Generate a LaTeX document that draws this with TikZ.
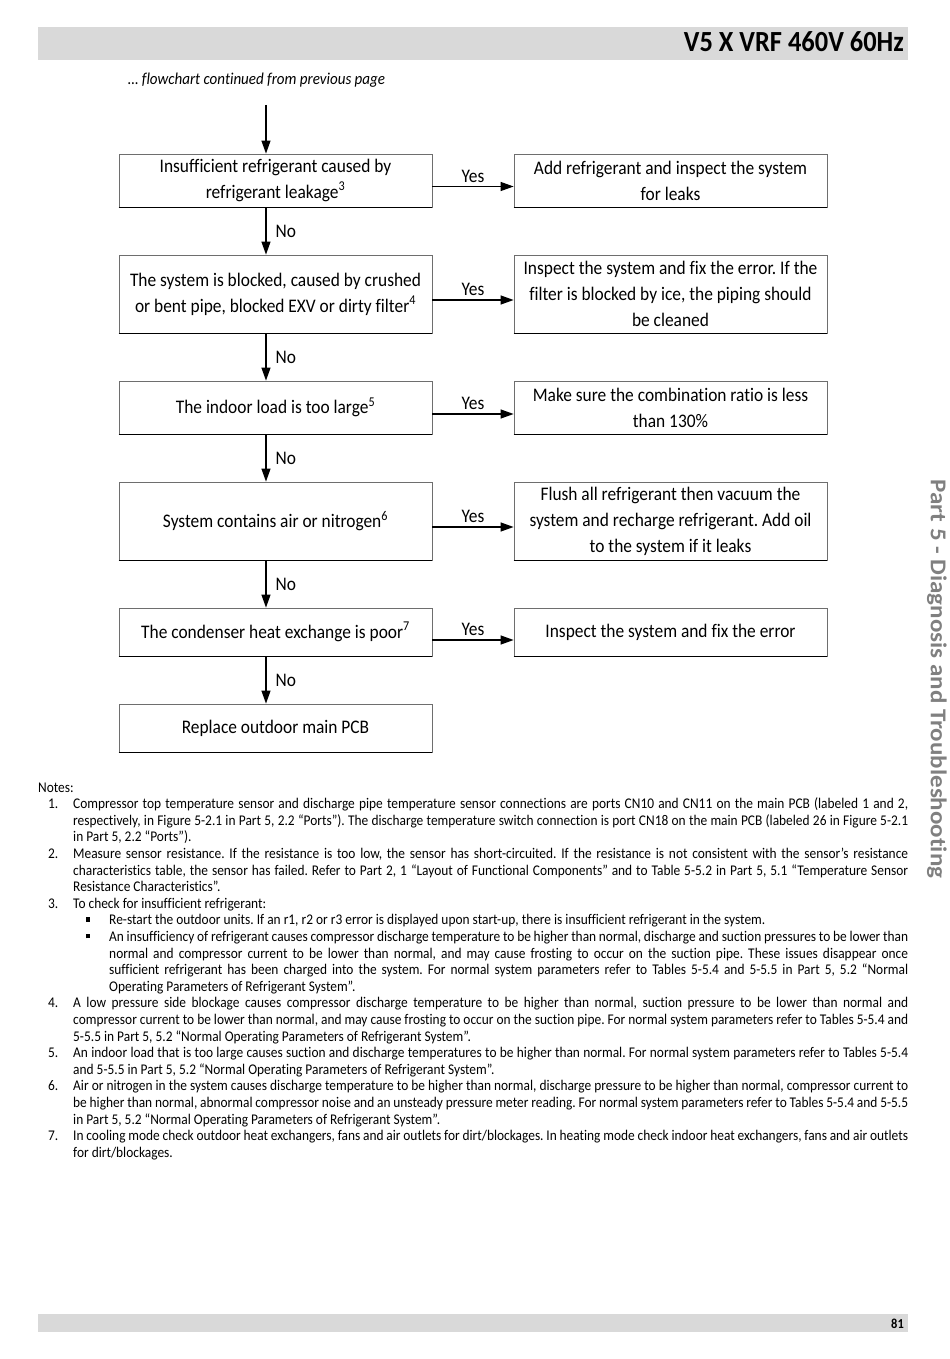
\documentclass[tikz,border=0pt]{standalone}
\usepackage{fontspec}
\setmainfont{Carlito}[Ligatures={TeX,NoCommon}]
\usetikzlibrary{arrows.meta}
\frenchspacing
\definecolor{hdrgray}{HTML}{D9D9D9}
\definecolor{sidegray}{HTML}{808080}
\definecolor{boxline}{HTML}{6E6E6E}
\newcommand\boxfont{\fontsize{19.2}{26}\selectfont}
\newcommand\notefont{\fontsize{14.8}{16.6}\selectfont}
\newenvironment{notelist}{\begin{list}{}{\setlength\leftmargin{38.7pt}\setlength\labelwidth{38.7pt}\setlength\labelsep{0pt}\setlength\itemsep{0pt}\setlength\parsep{0pt}\setlength\topsep{0pt}\setlength\partopsep{0pt}\setlength\itemindent{0pt}\setlength\listparindent{0pt}\setlength\rightmargin{0pt}\renewcommand\makelabel[1]{\makebox[\labelwidth][l]{\hspace{11pt}##1}}}}{\end{list}}
\newenvironment{bulletlist}{\begin{list}{}{\setlength\leftmargin{39.8pt}\setlength\labelwidth{39.8pt}\setlength\labelsep{0pt}\setlength\itemsep{0pt}\setlength\parsep{0pt}\setlength\topsep{0pt}\setlength\partopsep{0pt}\setlength\itemindent{0pt}\setlength\listparindent{0pt}\setlength\rightmargin{0pt}\renewcommand\makelabel[1]{\makebox[\labelwidth][l]{\hspace{14.5pt}##1}}}}{\end{list}}
\newcommand\sqbul{\rule[3pt]{4.4pt}{4.4pt}}
\tikzset{
  fbox/.style={draw=boxline, line width=0.8pt, inner sep=0pt, font=\boxfont, align=center, minimum width=345.86pt},
  edgeb/.style={draw=black, line width=1.3pt},
  arr/.style={line width=1.2pt, -{Triangle[length=13pt,width=9pt]}},
  lbl/.style={font=\boxfont},
}
\begin{document}
\begin{tikzpicture}[xscale=0.905, transform shape, x=1.104972pt, y=-1pt]
\useasboundingbox (0,0) rectangle (950,1359);
% header
\fill[hdrgray] (38,27) rectangle (908,60);
\node[anchor=base east, inner sep=0pt, font=\bfseries\fontsize{29.2}{32}\selectfont] (hdr) at (904,52) {V5 X VRF 460V 60Hz};
\node[anchor=base west, inner sep=0pt, font=\itshape\fontsize{16.6}{20}\selectfont] (cont) at (128,85) {… flowchart continued from previous page};
% footer
\fill[hdrgray] (38,1314) rectangle (908,1332);
\node[anchor=base east, inner sep=0pt, font=\bfseries\fontsize{13.73}{16}\selectfont] (pg) at (904,1328) {81};
% sidebar
\node[rotate=-90, inner sep=0pt, text=sidegray, font=\bfseries\fontsize{25}{28}\selectfont] (side) at (937,679) {Part 5 - Diagnosis and Troubleshooting};
% flowchart
\coordinate (start) at (266,105);
\node[fbox, minimum height=53pt] (l1) at (275.5,180.5) {Insufficient refrigerant caused by\\refrigerant leakage\textsuperscript{3}};
\node[fbox, minimum height=78pt] (l2) at (275.5,294) {The system is blocked, caused by crushed\\or bent pipe, blocked EXV or dirty filter\textsuperscript{4}};
\node[fbox, minimum height=53pt] (l3) at (275.5,407.5) {The indoor load is too large\textsuperscript{5}};
\node[fbox, minimum height=78pt] (l4) at (275.5,521) {System contains air or nitrogen\textsuperscript{6}};
\node[fbox, minimum height=48pt] (l5) at (275.5,632) {The condenser heat exchange is poor\textsuperscript{7}};
\node[fbox, minimum height=48pt] (l6) at (275.5,728) {Replace outdoor main PCB};
\node[fbox, minimum height=53pt] (r1) at (670.5,180.5) {Add refrigerant and inspect the system\\for leaks};
\node[fbox, minimum height=78pt] (r2) at (670.5,294) {Inspect the system and fix the error. If the\\filter is blocked by ice, the piping should\\be cleaned};
\node[fbox, minimum height=53pt] (r3) at (670.5,407.5) {Make sure the combination ratio is less\\than 130\%};
\node[fbox, minimum height=78pt] (r4) at (670.5,521) {Flush all refrigerant then vacuum the\\system and recharge refrigerant. Add oil\\to the system if it leaks};
\node[fbox, minimum height=48pt] (r5) at (670.5,632) {Inspect the system and fix the error};
\foreach \n in {l1,l2,l3,l4,l5,l6,r1,r2,r3,r4,r5} \draw[edgeb] (\n.south west) -- (\n.south east);
% vertical arrows
\draw[arr] (start) -- (l1.north -| start);
\draw[arr] (l1.south -| start) -- node[lbl, anchor=west, inner sep=0pt, xshift=10pt] {No} (l2.north -| start);
\draw[arr] (l2.south -| start) -- node[lbl, anchor=west, inner sep=0pt, xshift=10pt] {No} (l3.north -| start);
\draw[arr] (l3.south -| start) -- node[lbl, anchor=west, inner sep=0pt, xshift=10pt] {No} (l4.north -| start);
\draw[arr] (l4.south -| start) -- node[lbl, anchor=west, inner sep=0pt, xshift=10pt] {No} (l5.north -| start);
\draw[arr] (l5.south -| start) -- node[lbl, anchor=west, inner sep=0pt, xshift=10pt] {No} (l6.north -| start);
% yes arrows
\draw[arr] ([yshift=-6pt]l1.east) -- node[lbl, above] {Yes} ([yshift=-6pt]r1.west);
\draw[arr] ([yshift=-6pt]l2.east) -- node[lbl, above] {Yes} ([yshift=-6pt]r2.west);
\draw[arr] ([yshift=-6.5pt]l3.east) -- node[lbl, above] {Yes} ([yshift=-6.5pt]r3.west);
\draw[arr] ([yshift=-6pt]l4.east) -- node[lbl, above] {Yes} ([yshift=-6pt]r4.west);
\draw[arr] ([yshift=-8pt]l5.east) -- node[lbl, above] {Yes} ([yshift=-8pt]r5.west);
% notes
\node[anchor=base west, inner sep=0pt] (notes) at (38,792) {\begin{minipage}[t]{961.3pt}\notefont
\hyphenpenalty=10000 \exhyphenpenalty=10000 \tolerance=10000 \emergencystretch=20pt
\setlength\parindent{0pt}\setlength\parskip{0pt}%
Notes:
\begin{notelist}
\item[1.] Compressor top temperature sensor and discharge pipe temperature sensor connections are ports CN10 and CN11 on the main PCB (labeled 1 and 2,\linebreak respectively, in Figure 5-2.1 in Part 5, 2.2 “Ports”). The discharge temperature switch connection is port CN18 on the main PCB (labeled 26 in Figure 5-2.1\linebreak in Part 5, 2.2 “Ports”).
\item[2.] Measure sensor resistance. If the resistance is too low, the sensor has short-circuited. If the resistance is not consistent with the sensor’s resistance\linebreak characteristics table, the sensor has failed. Refer to Part 2, 1 “Layout of Functional Components” and to Table 5-5.2 in Part 5, 5.1 “Temperature Sensor\linebreak Resistance Characteristics”.
\item[3.] To check for insufficient refrigerant:
\begin{bulletlist}
\item[\sqbul] Re-start the outdoor units. If an r1, r2 or r3 error is displayed upon start-up, there is insufficient refrigerant in the system.
\item[\sqbul] An insufficiency of refrigerant causes compressor discharge temperature to be higher than normal, discharge and suction pressures to be lower than\linebreak normal and compressor current to be lower than normal, and may cause frosting to occur on the suction pipe. These issues disappear once\linebreak sufficient refrigerant has been charged into the system. For normal system parameters refer to Tables 5-5.4 and 5-5.5 in Part 5, 5.2 “Normal\linebreak Operating Parameters of Refrigerant System”.
\end{bulletlist}
\item[4.] A low pressure side blockage causes compressor discharge temperature to be higher than normal, suction pressure to be lower than normal and\linebreak compressor current to be lower than normal, and may cause frosting to occur on the suction pipe. For normal system parameters refer to Tables 5-5.4 and\linebreak 5-5.5 in Part 5, 5.2 “Normal Operating Parameters of Refrigerant System”.
\item[5.] An indoor load that is too large causes suction and discharge temperatures to be higher than normal. For normal system parameters refer to Tables 5-5.4\linebreak and 5-5.5 in Part 5, 5.2 “Normal Operating Parameters of Refrigerant System”.
\item[6.] Air or nitrogen in the system causes discharge temperature to be higher than normal, discharge pressure to be higher than normal, compressor current to\linebreak be higher than normal, abnormal compressor noise and an unsteady pressure meter reading. For normal system parameters refer to Tables 5-5.4 and 5-5.5\linebreak in Part 5, 5.2 “Normal Operating Parameters of Refrigerant System”.
\item[7.] In cooling mode check outdoor heat exchangers, fans and air outlets for dirt/blockages. In heating mode check indoor heat exchangers, fans and air outlets\linebreak for dirt/blockages.
\end{notelist}
\end{minipage}};
\end{tikzpicture}
\end{document}
